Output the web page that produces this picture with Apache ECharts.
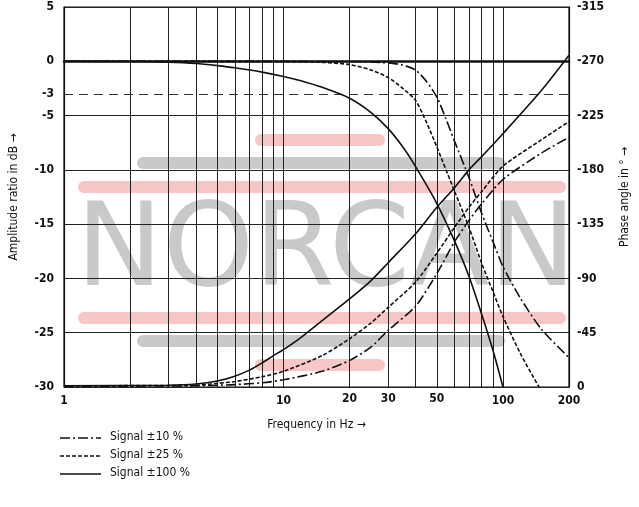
<!DOCTYPE html>
<html>
<head>
<meta charset="utf-8">
<script src="https://cdn.jsdelivr.net/npm/echarts@6/dist/echarts.min.js"></script>
<style>html,body{margin:0;padding:0;background:#fff}#chart{width:639px;height:507px}</style>
</head>
<body>
<div id="chart"></div>
<script>
// frequency (Hz) grid and extra labels
var gridFreqs = [2, 3, 4, 5, 6, 7, 8, 9, 20, 30, 40, 50, 60, 70, 80, 90];
var extraLabels = [20, 30, 50];
var legendNames = ["Signal \u00b110 %", "Signal \u00b125 %", "Signal \u00b1100 %"];

// amplitude ratio in dB, [Hz, dB]
var amp10 = [[1, 0], [20, -0.02], [30, -0.15], [35, -0.35], [40, -0.8], [45, -1.9], [50, -3.3], [55, -5.3], [60, -7.3], [70, -10.7], [80, -14], [90, -16.6], [100, -18.9], [120, -21.8], [150, -24.7], [200, -27.3]];
var amp25 = [[1, 0], [10, -0.02], [15, -0.1], [20, -0.3], [25, -0.8], [30, -1.5], [35, -2.5], [40, -3.6], [45, -5.7], [50, -7.9], [60, -11.9], [70, -15.3], [80, -18.6], [90, -21.2], [100, -23.5], [120, -26.9], [146, -30]];
var amp100 = [[1, 0], [2, -0.02], [3, -0.08], [4, -0.2], [5, -0.4], [6, -0.6], [8, -1.0], [10, -1.4], [12, -1.8], [15, -2.4], [20, -3.4], [25, -4.7], [30, -6.2], [35, -7.9], [40, -9.7], [50, -13.1], [60, -16.5], [70, -19.8], [80, -23.3], [90, -26.6], [100, -30]];

// phase angle in degrees, [Hz, deg]
var ph10 = [[1, -0.5], [4, -1], [5, -1.5], [6, -2], [8, -3.5], [10, -6], [15, -13], [20, -22], [25, -33], [30, -47], [40, -67], [50, -94], [60, -120], [70, -138], [80, -152], [100, -172], [150, -194], [200, -207]];
var ph25 = [[1, -1], [4, -1.5], [5, -3], [6, -4.5], [8, -8.5], [10, -13], [15, -26], [20, -40], [25, -53], [30, -66], [40, -87], [50, -111], [60, -132], [70, -149], [80, -162], [100, -183], [150, -205], [200, -220]];
var ph100 = [[1, -1], [3, -1.5], [4, -2.5], [5, -5], [6, -9], [7, -14], [8, -20], [9, -26], [10, -31], [12, -41], [15, -55], [20, -73], [25, -88], [30, -103], [40, -127], [50, -149], [60, -165], [70, -180], [80, -191], [100, -210], [150, -246], [200, -275]];

var FONT = "'DejaVu Sans Condensed', 'Roboto', sans-serif";
var dashDot = [10, 3, 2, 3];
var dashed = [4, 2];
var styles = [dashDot, dashed, "solid"];

function line(name, data, type, yIdx, withGrid) {
  var s = {
    name: name, type: "line", data: data, yAxisIndex: yIdx, smooth: 0.25,
    showSymbol: false, symbol: "none", z: 5,
    lineStyle: { color: "#111", width: 1.6, type: type }
  };
  if (withGrid) {
    var lines = gridFreqs.map(function (f) {
      return {
        xAxis: f,
        label: { show: extraLabels.indexOf(f) >= 0, position: "start", formatter: String(f), distance: 6,
          fontFamily: FONT, fontWeight: "bold", fontSize: 12, color: "#111" }
      };
    });
    lines.push({
      yAxis: -3,
      lineStyle: { type: [9, 6], color: "#333", width: 1 },
      label: { show: true, position: "start", formatter: "-3", fontFamily: FONT, fontWeight: "bold", fontSize: 12, color: "#111", distance: 10 }
    });
    s.markLine = { silent: true, symbol: "none", animation: false, lineStyle: { color: "#222", width: 1, type: "solid" }, data: lines, z: 2 };
  }
  return s;
}

var wm = "#c9c9c9", pink = "#f7c6c6";
function bar(x, y, w, c) {
  return { type: "rect", left: x, top: y, shape: { width: w, height: 12, r: 6 }, style: { fill: c }, z: 0, silent: true };
}

// hand-drawn legend at the bottom left
var legendGraphics = [];
legendNames.forEach(function (n, i) {
  var y = 438 + i * 18;
  legendGraphics.push({ type: "line", shape: { x1: 60, y1: y, x2: 101, y2: y },
    style: { stroke: "#111", lineWidth: 1.4, lineDash: styles[i] === "solid" ? null : styles[i] }, z: 10 });
  legendGraphics.push({ type: "text", left: 110, top: y - 7,
    style: { text: n, fill: "#111", font: "12px " + FONT }, z: 10 });
});

var chart = echarts.init(document.getElementById("chart"));
chart.setOption({
  animation: false,
  grid: { left: 60, right: 67, top: 7, bottom: 120, show: true, borderColor: "#111", borderWidth: 1.2, backgroundColor: "transparent" },
  graphic: [
    bar(255, 134, 130, pink), bar(137, 157, 368, wm), bar(78, 181, 488, pink),
    bar(78, 312, 488, pink), bar(137, 335, 368, wm), bar(255, 359, 130, pink),
    { type: "text", left: 76, top: 197, z: 0, silent: true,
      style: { text: "NORCAN", fill: wm, font: "116px 'DejaVu Sans', sans-serif" } }
  ].concat(legendGraphics),
  xAxis: {
    type: "log", logBase: 10, min: 1, max: 200,
    name: "Frequency in Hz \u2192", nameLocation: "middle", nameGap: 32,
    nameTextStyle: { fontFamily: FONT, fontSize: 12, color: "#111" },
    axisLine: { lineStyle: { color: "#111", width: 2.5 } },
    axisTick: { show: false },
    axisLabel: { fontFamily: FONT, fontWeight: "bold", fontSize: 12, color: "#111", margin: 8 },
    splitLine: { show: true, lineStyle: { color: "#222", width: 1 } }
  },
  yAxis: [{
    type: "value", min: -30, max: 5, interval: 5,
    name: "Amplitude ratio in dB \u2192", nameLocation: "middle", nameGap: 44,
    nameTextStyle: { fontFamily: FONT, fontSize: 12, color: "#111" },
    axisLine: { show: true, lineStyle: { color: "#111", width: 1.2 } },
    axisTick: { show: false },
    axisLabel: { fontFamily: FONT, fontWeight: "bold", fontSize: 12, color: "#111", margin: 10 },
    splitLine: { show: true, lineStyle: { color: "#222", width: 1 } }
  }, {
    type: "value", min: -315, max: 0, interval: 45, inverse: true, position: "right",
    name: "Phase angle in \u00b0 \u2192", nameLocation: "middle", nameGap: 50, nameRotate: 90,
    nameTextStyle: { fontFamily: FONT, fontSize: 12, color: "#111" },
    axisLine: { show: true, lineStyle: { color: "#111", width: 1.2 } },
    axisTick: { show: false },
    axisLabel: { fontFamily: FONT, fontWeight: "bold", fontSize: 12, color: "#111", margin: 8 },
    splitLine: { show: false }
  }],
  series: [
    line(legendNames[0], amp10, dashDot, 0, true),
    line(legendNames[1], amp25, dashed, 0, false),
    line(legendNames[2], amp100, "solid", 0, false),
    line(legendNames[0], ph10, dashDot, 1, false),
    line(legendNames[1], ph25, dashed, 1, false),
    line(legendNames[2], ph100, "solid", 1, false)
  ]
});
</script>
</body>
</html>
